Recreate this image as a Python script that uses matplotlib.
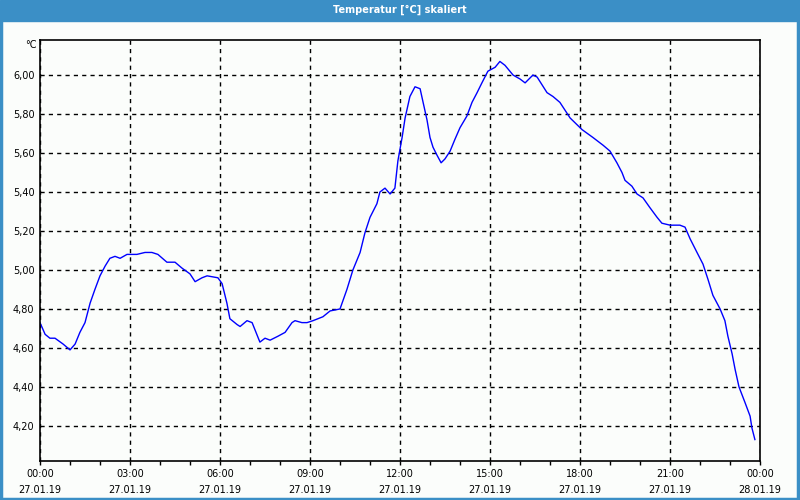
import matplotlib.pyplot as plt
from matplotlib.patches import Rectangle

# hours since 27.01.19 00:00 and temperature in degC
hours = [0.0, 0.17, 0.33, 0.5, 0.77, 1.0, 1.17, 1.33, 1.5, 1.67, 1.83, 2.0,
         2.17, 2.33, 2.5, 2.67, 2.9, 3.23, 3.5, 3.73, 3.93, 4.23, 4.5, 4.73,
         5.0, 5.17, 5.4, 5.57, 5.93, 6.07, 6.23, 6.33, 6.57, 6.67, 6.9, 7.07,
         7.33, 7.5, 7.67, 7.93, 8.17, 8.4, 8.5, 8.73, 8.9, 9.1, 9.43, 9.67,
         10.0, 10.23, 10.43, 10.67, 10.83, 11.0, 11.23, 11.33, 11.5, 11.67,
         11.83, 11.93, 12.07, 12.17, 12.33, 12.5, 12.67, 12.77, 12.9, 13.0,
         13.1, 13.23, 13.37, 13.5, 13.67, 13.83, 14.0, 14.23, 14.4, 14.57,
         14.73, 14.93, 15.17, 15.33, 15.5, 15.77, 16.0, 16.17, 16.43, 16.57,
         16.9, 17.1, 17.33, 17.67, 18.07, 18.43, 18.77, 19.0, 19.23, 19.4,
         19.5, 19.73, 19.9, 20.1, 20.33, 20.57, 20.73, 21.0, 21.33, 21.5,
         21.67, 21.9, 22.1, 22.27, 22.43, 22.67, 22.83, 22.93, 23.07, 23.17,
         23.3, 23.5, 23.67, 23.73, 23.83]
temp = [4.73, 4.67, 4.65, 4.65, 4.62, 4.59, 4.62, 4.68, 4.73, 4.83, 4.90, 4.97,
        5.02, 5.06, 5.07, 5.06, 5.08, 5.08, 5.09, 5.09, 5.08, 5.04, 5.04, 5.01,
        4.98, 4.94, 4.96, 4.97, 4.96, 4.93, 4.83, 4.75, 4.72, 4.71, 4.74, 4.73,
        4.63, 4.65, 4.64, 4.66, 4.68, 4.73, 4.74, 4.73, 4.73, 4.74, 4.76, 4.79,
        4.80, 4.90, 5.00, 5.09, 5.19, 5.27, 5.34, 5.40, 5.42, 5.39,
        5.42, 5.56, 5.68, 5.78, 5.89, 5.94, 5.93, 5.86, 5.77, 5.68,
        5.63, 5.59, 5.55, 5.57, 5.61, 5.67, 5.73, 5.79, 5.86, 5.91,
        5.96, 6.02, 6.04, 6.07, 6.05, 6.00, 5.98, 5.96, 6.00, 5.99,
        5.91, 5.89, 5.86, 5.78, 5.72, 5.68, 5.64, 5.61, 5.55, 5.50,
        5.46, 5.43, 5.39, 5.37, 5.32, 5.27, 5.24, 5.23, 5.23, 5.22,
        5.16, 5.09, 5.03, 4.95, 4.87, 4.80, 4.74, 4.66, 4.57, 4.49,
        4.40, 4.32, 4.25, 4.19, 4.13]

x_ticks = [0, 3, 6, 9, 12, 15, 18, 21, 24]
x_labels = ["00:00\n27.01.19", "03:00\n27.01.19", "06:00\n27.01.19",
            "09:00\n27.01.19", "12:00\n27.01.19", "15:00\n27.01.19",
            "18:00\n27.01.19", "21:00\n27.01.19", "00:00\n28.01.19"]
y_ticks = [4.2, 4.4, 4.6, 4.8, 5.0, 5.2, 5.4, 5.6, 5.8, 6.0]
y_labels = ["4,20", "4,40", "4,60", "4,80", "5,00", "5,20", "5,40", "5,60", "5,80", "6,00"]

BAR = "#3b8fc6"

fig = plt.figure(figsize=(8, 5), dpi=100, facecolor="#fbfdfb")
ax = fig.add_axes([0.05, 0.078, 0.90, 0.842], facecolor="#fbfdfb")

ax.plot(hours, temp, color="#0000ff", lw=1)

ax.set_xlim(0, 24)
ax.set_ylim(4.02, 6.18)
ax.set_xticks(x_ticks)
ax.set_xticklabels(x_labels, fontsize=7, linespacing=1.75)
ax.set_xticks(range(0, 25), minor=True)
ax.set_yticks(y_ticks)
ax.set_yticklabels(y_labels, fontsize=7)
ax.tick_params(axis="x", which="both", length=3, width=1, pad=3)
ax.tick_params(axis="y", length=0, pad=4)
ax.grid(True, which="major", color="black", ls=(0, (3, 3)), lw=1)
for s in ax.spines.values():
    s.set_linewidth(1.2)
    s.set_color("black")

ax.text(-0.005, 1.0, "°C", transform=ax.transAxes, ha="right", va="top", fontsize=7)

# title bar and window border
fig.patches.append(Rectangle((0, 1 - 21 / 500), 1, 21 / 500, transform=fig.transFigure,
                             color=BAR, zorder=0))
fig.patches.append(Rectangle((0.001, 0.002), 0.997, 0.995, transform=fig.transFigure,
                             fill=False, ec=BAR, lw=2.5, zorder=0))
fig.text(0.5, 1 - 10 / 500, "Temperatur [°C] skaliert", ha="center", va="center",
         color="white", fontsize=7, fontweight="bold")

fig.savefig("out.png", dpi=100, facecolor=fig.get_facecolor())
